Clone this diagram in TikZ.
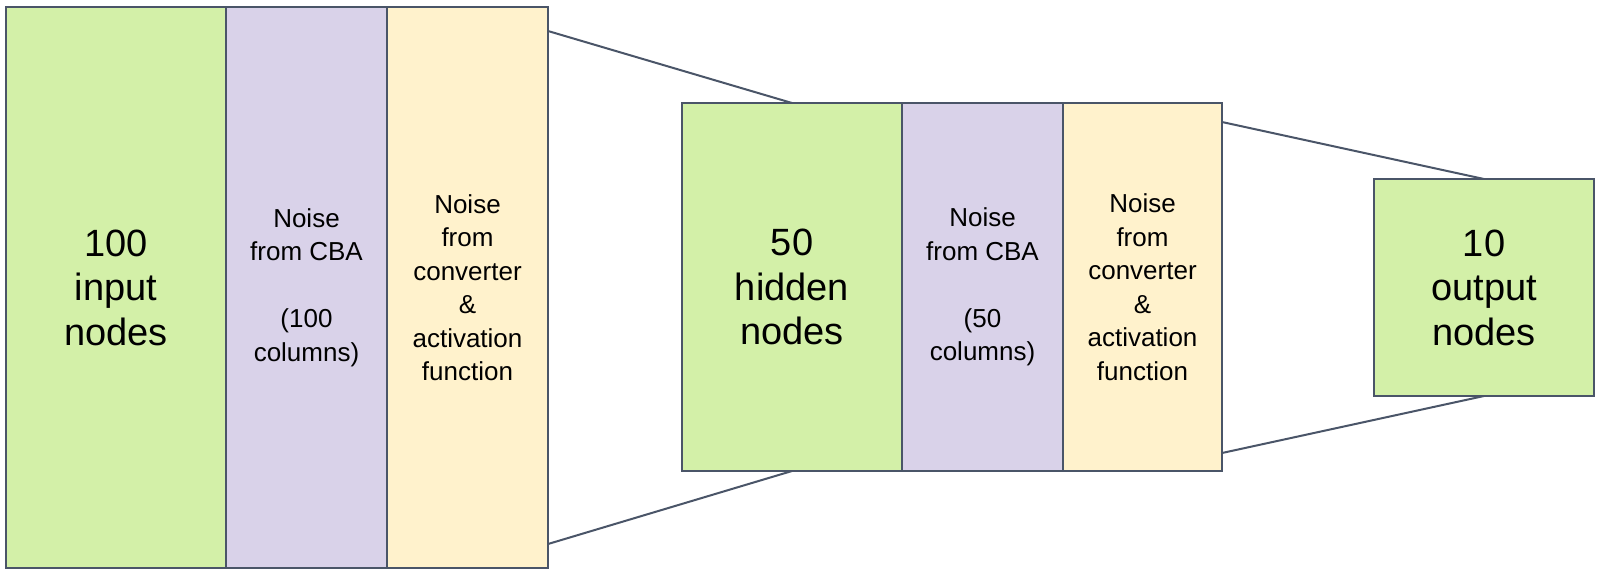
\documentclass[tikz,border=0pt]{standalone}
\usepackage{fontspec}
\setmainfont{Liberation Sans}
\usetikzlibrary{positioning}
\definecolor{lNode}{HTML}{D3F0A8}
\definecolor{lCba}{HTML}{D9D2E9}
\definecolor{lConv}{HTML}{FFF2CC}
\definecolor{lEdge}{HTML}{4A5568}
\tikzset{
  layer/.style={draw=lEdge, line width=1pt, outer sep=0pt, inner sep=0pt,
                align=center, anchor=north west},
  units/.style={layer, fill=lNode, minimum width=110pt,
                font=\fontsize{19}{22.25}\selectfont},
  cba/.style={layer, fill=lCba, minimum width=80.5pt,
              font=\fontsize{13}{16.75}\selectfont},
  conv/.style={layer, fill=lConv, minimum width=80.5pt,
               font=\fontsize{13}{16.75}\selectfont},
  link/.style={draw=lEdge, line width=1pt},
}
\newcommand{\convtext}{Noise\\from\\converter\\\&\\activation\\function}

\begin{document}
\begin{tikzpicture}[x=0.5pt, y=-0.5pt]
\useasboundingbox (0,0) rectangle (1602,580);

% input layer
\node[units, minimum height=280.5pt] (in) at (6,7) {100\\input\\nodes};
\node[cba, minimum height=280.5pt, right=0pt of in] (inCba)
  {Noise\\from CBA\\[16.75pt](100\\columns)};
\node[conv, minimum height=280.5pt, right=0pt of inCba] (inConv) {\convtext};

% hidden layer
\node[units, minimum height=184pt] (hid) at (682,103) {50\\hidden\\nodes};
\node[cba, minimum height=184pt, right=0pt of hid] (hidCba)
  {Noise\\from CBA\\[16.75pt](50\\columns)};
\node[conv, minimum height=184pt, minimum width=79.5pt, right=0pt of hidCba]
  (hidConv) {\convtext};

% output layer
\node[units, minimum height=108.5pt] (out) at (1374,179) {10\\output\\nodes};

\draw[link] ([yshift=-12pt]inConv.north east) -- (hid.north);
\draw[link] ([yshift=12pt]inConv.south east) -- (hid.south);
\draw[link] ([yshift=-9.5pt]hidConv.north east) -- (out.north);
\draw[link] ([yshift=9pt]hidConv.south east) -- (out.south);

\end{tikzpicture}
\end{document}
